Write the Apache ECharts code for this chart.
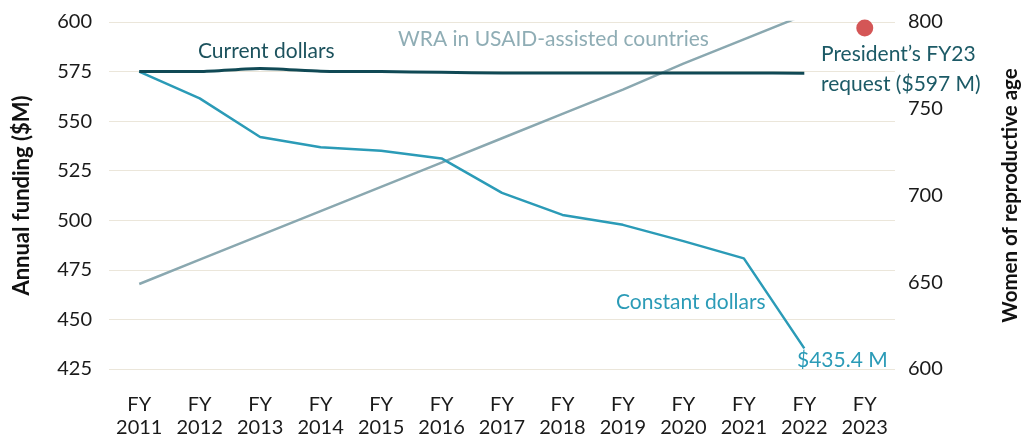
<!DOCTYPE html>
<html>
<head>
<meta charset="utf-8">
<script src="https://cdn.jsdelivr.net/npm/echarts@6/dist/echarts.min.js"></script>
<style>
  html, body { margin: 0; padding: 0; background: #fff; }
  #chart { width: 1029px; height: 440px; }
</style>
</head>
<body>
<div id="chart"></div>
<script>
// fiscal years
var years = ['2011', '2012', '2013', '2014', '2015', '2016', '2017', '2018', '2019', '2020', '2021', '2022', '2023'];
// annual funding, $M
var currentDollars = [575, 575, 576.5, 575.2, 575, 574.6, 574.3, 574.3, 574.3, 574.3, 574.3, 574.2, null];
var constantDollars = [575, 561.5, 542, 536.8, 535.1, 531.2, 513.8, 502.7, 497.7, 489.5, 480.8, 435.4, null];
// women of reproductive age in USAID-assisted countries (M)
var wra = [649, 663, 677, 691, 705, 719, 733, 747, 761, 776, 790, 804, null];
// President's FY23 request
var request = [null, null, null, null, null, null, null, null, null, null, null, null, 597];

var leftTicks = { min: 425, max: 600, interval: 25 };
var rightTicks = { min: 600, max: 800, interval: 50 };

var font = 'Lato, "Noto Sans", sans-serif';
var mychart = echarts.init(document.getElementById('chart'));

var option = {
    animation: false,
    textStyle: { fontFamily: font },
    grid: { left: 109, right: 127, top: 22, bottom: 71 },
    xAxis: {
        type: 'category',
        data: years.map(function (y) { return 'FY\n' + y; }),
        boundaryGap: true,
        axisLine: { show: false },
        axisTick: { show: false },
        axisLabel: { color: '#1a1a1a', fontSize: 20, lineHeight: 23, margin: 24, fontFamily: font }
    },
    yAxis: [
        {
            type: 'value',
            min: leftTicks.min, max: leftTicks.max, interval: leftTicks.interval,
            name: 'Annual funding ($M)',
            nameLocation: 'middle',
            nameRotate: 90,
            nameGap: 76,
            nameTextStyle: { color: '#111', fontSize: 22, fontWeight: 'bold', fontFamily: font },
            axisLine: { show: false },
            axisTick: { show: false },
            axisLabel: { color: '#1a1a1a', fontSize: 20, margin: 17, fontFamily: font },
            splitLine: { lineStyle: { color: '#ebe6da', width: 1 } }
        },
        {
            type: 'value',
            position: 'right',
            min: rightTicks.min, max: rightTicks.max, interval: rightTicks.interval,
            name: 'Women of reproductive age',
            nameLocation: 'middle',
            nameRotate: 90,
            nameGap: 105,
            nameTextStyle: { color: '#111', fontSize: 20.5, fontWeight: 'bold', fontFamily: font },
            axisLine: { show: false },
            axisTick: { show: false },
            axisLabel: { color: '#1a1a1a', fontSize: 20, margin: 13, fontFamily: font },
            splitLine: { show: false }
        }
    ],
    series: [
        {
            name: 'WRA in USAID-assisted countries',
            type: 'line',
            yAxisIndex: 1,
            data: wra,
            symbol: 'none',
            clip: true,
            lineStyle: { color: '#8aa8b0', width: 2.5 }
        },
        {
            name: 'Constant dollars',
            type: 'line',
            data: constantDollars,
            symbol: 'none',
            lineStyle: { color: '#2b9bb7', width: 2.5 }
        },
        {
            name: 'Current dollars',
            type: 'line',
            data: currentDollars,
            symbol: 'none',
            smooth: 0.2,
            lineStyle: { color: '#104955', width: 3 }
        },
        {
            name: "President's FY23 request",
            type: 'scatter',
            data: request,
            symbol: 'circle',
            symbolSize: 17,
            itemStyle: { color: '#d45656', opacity: 1 }
        }
    ],
    graphic: [
        { type: 'text', left: 198, top: 41, style: { text: 'Current dollars', fill: '#1c525d', font: '21px ' + font } },
        { type: 'text', left: 398, top: 29, style: { text: 'WRA in USAID-assisted countries', fill: '#8fadb5', font: '21px ' + font } },
        { type: 'text', left: 821, top: 39, style: { text: 'President\u2019s FY23\nrequest ($597 M)', fill: '#1c5a66', font: '21px ' + font, lineHeight: 30 } },
        { type: 'text', left: 616, top: 292, style: { text: 'Constant dollars', fill: '#2b9bb7', font: '21px ' + font } },
        { type: 'text', left: 797, top: 350, style: { text: '$435.4 M', fill: '#2b9bb7', font: '21px ' + font } }
    ]
};

mychart.setOption(option);
</script>
</body>
</html>
